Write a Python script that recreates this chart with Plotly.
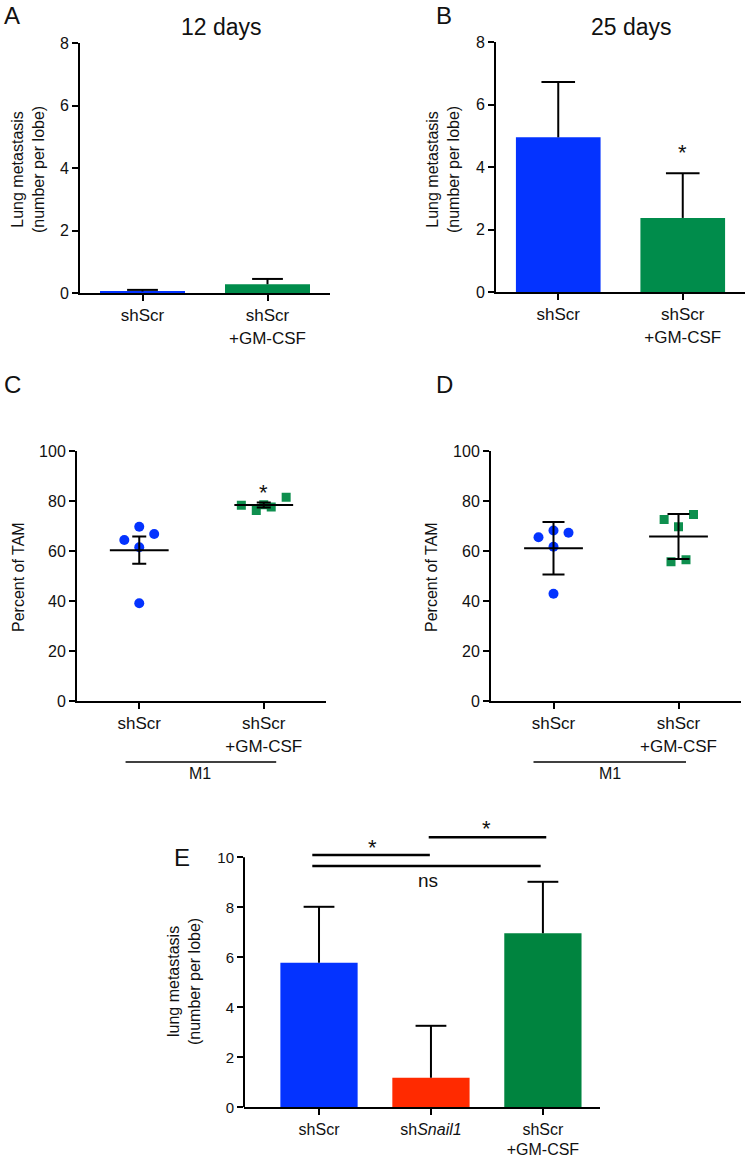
import plotly.graph_objects as go

W, H = 748, 1159
FONT = "Liberation Sans, Arial, Helvetica, sans-serif"

# ---------------- data ----------------
groups_ab = ["shScr", "shScr<br>+GM-CSF"]
bar_colors_ab = ["#0433FF", "#008C4B"]

a_values = [0.05, 0.28]
a_err = [0.05, 0.17]

b_values = [4.95, 2.37]
b_err = [1.77, 1.43]

groups_cd = ["shScr", "shScr<br>+GM-CSF"]
c_shscr = [69.7, 64.4, 66.8, 61.5, 39.1]
c_shscr_jitter = [0.0, -0.12, 0.12, 0.0, 0.0]
c_gm = [78.3, 76.2, 78.5, 77.6, 81.5]
c_gm_jitter = [-0.18, -0.06, 0.0, 0.06, 0.18]
c_means = [60.3, 78.4]
c_err = [5.45, 1.0]

d_shscr = [65.5, 68.2, 67.3, 61.7, 42.9]
d_shscr_jitter = [-0.12, 0.0, 0.12, 0.0, 0.0]
d_gm = [72.6, 74.6, 69.7, 55.7, 56.5]
d_gm_jitter = [-0.115, 0.12, 0.0, -0.06, 0.06]
d_means = [61.1, 65.8]
d_err = [10.5, 9.0]

groups_e = ["shScr", "sh<i>Snail1</i>", "shScr<br>+GM-CSF"]
bar_colors_e = ["#0433FF", "#FF2A00", "#00843F"]
e_values = [5.78, 1.18, 6.96]
e_err = [2.24, 2.08, 2.06]

# significance comparisons in panel E: (x_start, x_end, level, label)
e_sig = [(-0.06, 0.99, 10.09, "*"), (0.98, 2.03, 10.8, "*"), (-0.06, 1.98, 9.65, "ns")]

# ---------------- layout helpers ----------------
def xd(p0, p1):
    return [p0 / W, p1 / W]

def yd(top, bottom):
    return [1 - bottom / H, 1 - top / H]

fig = go.Figure()

TICKF = dict(family=FONT, size=16, color="#111")
axis_common = dict(showline=True, linecolor="black", linewidth=2, ticks="outside",
                   ticklen=6, tickwidth=2, tickcolor="black", showgrid=False,
                   zeroline=False, tickfont=TICKF)

blue_pt = "#0433FF"
green_pt = "#0E8F4E"


def bars_with_up_errors(xs, vals, errs, colors, width, cap, xa, ya):
    fig.add_trace(go.Bar(x=xs, y=vals, width=width, marker=dict(color=colors, line=dict(width=0)),
                         xaxis=xa, yaxis=ya))
    tops = [v + e for v, e in zip(vals, errs)]
    fig.add_trace(go.Scatter(x=xs, y=tops, mode="markers",
                             marker=dict(symbol="line-ew", size=cap, line=dict(width=2, color="black")),
                             error_y=dict(type="data", symmetric=False, array=[0] * len(xs),
                                          arrayminus=errs, color="black", thickness=2, width=0),
                             xaxis=xa, yaxis=ya, cliponaxis=False))


# ----- Panel A -----
bars_with_up_errors([0, 1], a_values, a_err, bar_colors_ab, 0.68, 22, "x", "y")
# ----- Panel B -----
bars_with_up_errors([0, 1], b_values, b_err, bar_colors_ab, 0.68, 24, "x2", "y2")

# ----- Panel C -----
fig.add_trace(go.Scatter(x=[0 + j for j in c_shscr_jitter], y=c_shscr, mode="markers",
                         marker=dict(symbol="circle", size=10, color=blue_pt), xaxis="x3", yaxis="y3"))
fig.add_trace(go.Scatter(x=[1 + j for j in c_gm_jitter], y=c_gm, mode="markers",
                         marker=dict(symbol="square", size=9, color=green_pt), xaxis="x3", yaxis="y3"))
fig.add_trace(go.Scatter(x=[0, 1], y=c_means, mode="markers",
                         marker=dict(symbol="line-ew", size=42, line=dict(width=2, color="black")),
                         error_y=dict(type="data", array=c_err, color="black", thickness=2, width=7),
                         xaxis="x3", yaxis="y3"))

# ----- Panel D -----
fig.add_trace(go.Scatter(x=[0 + j for j in d_shscr_jitter], y=d_shscr, mode="markers",
                         marker=dict(symbol="circle", size=10, color=blue_pt), xaxis="x4", yaxis="y4"))
fig.add_trace(go.Scatter(x=[1 + j for j in d_gm_jitter], y=d_gm, mode="markers",
                         marker=dict(symbol="square", size=9, color=green_pt), xaxis="x4", yaxis="y4"))
fig.add_trace(go.Scatter(x=[0, 1], y=d_means, mode="markers",
                         marker=dict(symbol="line-ew", size=42, line=dict(width=2, color="black")),
                         error_y=dict(type="data", array=d_err, color="black", thickness=2, width=11),
                         xaxis="x4", yaxis="y4"))

# ----- Panel E -----
bars_with_up_errors([0, 1, 2], e_values, e_err, bar_colors_e, 0.69, 22, "x5", "y5")

cat_font = dict(family=FONT, size=17, color="#111")

fig.update_layout(
    width=W, height=H, margin=dict(l=0, r=0, t=0, b=0, pad=0, autoexpand=False),
    paper_bgcolor="white", plot_bgcolor="white", showlegend=False,
    font=dict(family=FONT, color="#111"),
    xaxis=dict(axis_common, domain=xd(80, 330), range=[-0.5, 1.5], tickvals=[0, 1], ticktext=groups_ab,
               anchor="y", tickfont=cat_font),
    yaxis=dict(axis_common, domain=yd(43, 293), range=[0, 8], tickvals=[0, 2, 4, 6, 8], anchor="x"),
    xaxis2=dict(axis_common, domain=xd(496, 745), range=[-0.5, 1.5], tickvals=[0, 1], ticktext=groups_ab,
                anchor="y2", tickfont=cat_font),
    yaxis2=dict(axis_common, domain=yd(42, 292), range=[0, 8], tickvals=[0, 2, 4, 6, 8], anchor="x2"),
    xaxis3=dict(axis_common, domain=xd(77, 326), range=[-0.5, 1.5], tickvals=[0, 1], ticktext=groups_cd,
                anchor="y3", tickfont=cat_font),
    yaxis3=dict(axis_common, domain=yd(451, 701), range=[0, 100], tickvals=[0, 20, 40, 60, 80, 100], anchor="x3"),
    xaxis4=dict(axis_common, domain=xd(491, 741), range=[-0.5, 1.5], tickvals=[0, 1], ticktext=groups_cd,
                anchor="y4", tickfont=cat_font),
    yaxis4=dict(axis_common, domain=yd(451, 701), range=[0, 100], tickvals=[0, 20, 40, 60, 80, 100], anchor="x4"),
    xaxis5=dict(axis_common, domain=xd(244, 600), range=[-0.67, 2.51], tickvals=[0, 1, 2], ticktext=groups_e,
                anchor="y5", tickfont=dict(family=FONT, size=16, color="#111")),
    yaxis5=dict(axis_common, domain=yd(812.3, 1107.3), range=[0, 11.8], tickvals=[0, 2, 4, 6, 8, 10],
                anchor="x5", showline=False, tickfont=dict(family=FONT, size=15, color="#111")),
)

shapes = []
# E y-axis line only up to 10
shapes.append(dict(type="line", xref="x5 domain", x0=0, x1=0, yref="y5", y0=0, y1=10,
                   line=dict(color="black", width=2)))
for x0, x1, lvl, lab in e_sig:
    shapes.append(dict(type="line", xref="x5", yref="y5", x0=x0, x1=x1, y0=lvl, y1=lvl,
                       line=dict(color="black", width=2.5)))
# M1 brackets under C and D
shapes.append(dict(type="line", xref="x3", yref="paper", x0=-0.11, x1=1.10, y0=1 - 762 / H, y1=1 - 762 / H,
                   line=dict(color="black", width=1.5)))
shapes.append(dict(type="line", xref="x4", yref="paper", x0=-0.16, x1=1.06, y0=1 - 762 / H, y1=1 - 762 / H,
                   line=dict(color="black", width=1.5)))
fig.update_layout(shapes=shapes)

ann = []
def paper_text(text, px, py, size, angle=0):
    ann.append(dict(text=text, xref="paper", yref="paper", x=px / W, y=1 - py / H, showarrow=False,
                    xanchor="center", yanchor="middle", textangle=angle,
                    font=dict(family=FONT, size=size, color="#111")))

# panel letters
paper_text("A", 12, 15, 24)
paper_text("B", 444, 15, 24)
paper_text("C", 12, 384, 24)
paper_text("D", 444, 384, 24)
paper_text("E", 182, 857, 24)
# titles
paper_text("12 days", 221, 27, 23)
paper_text("25 days", 631, 27, 23)
# y-axis titles
paper_text("Lung metastasis<br>(number per lobe)", 28, 170, 16, -90)
paper_text("Lung metastasis<br>(number per lobe)", 443, 170, 16, -90)
paper_text("Percent of TAM", 18, 577, 16, -90)
paper_text("Percent of TAM", 431, 577, 16, -90)
paper_text("lung metastasis<br>(number per lobe)", 184, 982, 16, -90)

# stars and labels in data coords
ann.append(dict(text="*", xref="x2", yref="y2", x=1, y=4.45, showarrow=False,
                font=dict(family=FONT, size=22, color="#111")))
ann.append(dict(text="*", xref="x3", yref="y3", x=1, y=83.5, showarrow=False,
                font=dict(family=FONT, size=22, color="#111")))
ann.append(dict(text="M1", xref="x3", yref="paper", x=0.49, y=1 - 784 / H, showarrow=False,
                font=dict(family=FONT, size=16, color="#111")))
ann.append(dict(text="M1", xref="x4", yref="paper", x=0.45, y=1 - 784 / H, showarrow=False,
                font=dict(family=FONT, size=16, color="#111")))
star_pos = [(0.48, 10.41), (1.5, 11.14)]
for (sx, sy) in star_pos:
    ann.append(dict(text="*", xref="x5", yref="y5", x=sx, y=sy, showarrow=False,
                    font=dict(family=FONT, size=22, color="#111")))
ann.append(dict(text="ns", xref="x5", yref="y5", x=0.97, y=9.09, showarrow=False,
                font=dict(family=FONT, size=19, color="#111")))
fig.update_layout(annotations=ann)

fig.write_html("out.html", config={"displayModeBar": False},
               post_script="document.body.style.margin='0';document.body.style.padding='0';")
